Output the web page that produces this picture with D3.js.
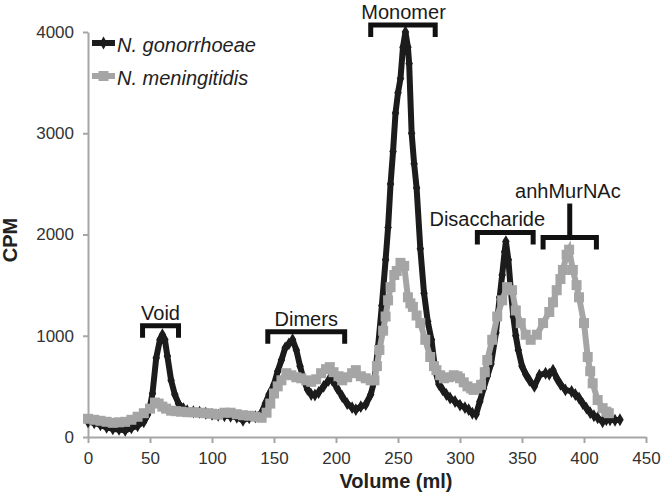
<!DOCTYPE html>
<html>
<head>
<meta charset="utf-8">
<script src="https://cdn.jsdelivr.net/npm/d3@7"></script>
<style>
  body { margin: 0; background: #fff; }
  svg { display: block; font-family: "Liberation Sans", Arial, sans-serif; }
  .axis path, .axis line { stroke: #a6a6a6; stroke-width: 2; }
  .axis text { fill: #333; font-size: 17px; }
</style>
</head>
<body>
<div id="chart"></div>
<script>
// N. gonorrhoeae
var volNg = [0,5,10,15,20,25,30,35,40,45,48,50,52,55,58,60,62,64,67,70,73,77,80,85,90,95,100,105,110,115,120,125,130,135,140,143,146,150,153,156,159,162,165,168,171,174,177,180,183,186,190,194,197,201,205,209,213,216,220,224,228,231,234,237,240,242,244,246,248,250,252,254,256,258,259,261,263,265,268,271,274,277,280,283,286,289,292,296,300,304,307,310,313,316,319,322,325,329,332,334,336,337,339,341,343,345,347,350,353,356,360,364,369,372,375,378,381,385,390,393,396,399,402,405,408,411,415,418,421,425,429];
var cpmNg = [150,140,120,95,80,75,65,90,110,150,220,300,430,780,960,1010,960,800,560,420,330,280,260,250,245,235,225,215,210,205,195,165,190,200,240,330,420,520,650,760,880,920,960,860,700,560,470,420,415,440,500,560,560,480,400,330,290,270,300,320,420,560,900,1300,1750,2070,2500,2820,3200,3400,3540,3850,4000,3850,3690,3000,2700,2460,1860,1420,1140,960,660,520,465,420,385,350,315,290,270,235,225,350,480,600,720,1030,1380,1600,1830,1930,1750,1450,1190,1000,860,700,620,560,500,610,630,620,660,580,520,465,450,420,385,330,285,240,210,190,150,170,170,165,170];

// N. meningitidis
var volNm = [0,5,10,15,20,25,30,35,40,45,50,54,57,60,63,67,71,75,80,85,90,95,100,105,110,115,120,125,130,135,140,144,147,150,153,156,160,164,168,172,176,180,184,188,192,195,198,202,205,209,213,216,220,224,228,231,233,235,238,240,242,244,247,249,252,255,258,260,262,265,268,272,276,279,281,284,287,291,295,298,300,303,306,309,311,314,317,320,322,326,330,334,338,342,345,349,353,357,362,367,372,375,378,381,383,386,388,391,394,396,400,403,405,407,411,415,418,420];
var cpmNm = [180,170,160,150,140,145,150,170,200,235,280,340,330,300,280,260,255,250,245,245,240,235,230,220,240,240,225,215,210,200,190,240,330,430,500,560,630,610,590,580,560,545,570,630,670,690,640,600,560,590,630,660,600,580,560,560,700,860,1050,1190,1350,1480,1600,1640,1720,1690,1380,1320,1285,1200,1125,960,790,700,660,610,580,590,610,600,580,540,500,480,465,480,515,640,760,960,1190,1350,1480,1450,1250,1125,1010,960,1010,1125,1235,1330,1450,1560,1650,1800,1850,1650,1500,1380,1125,790,650,530,365,285,250,235];

var seriesNames = ["N. gonorrhoeae", "N. meningitidis"];
var xTicks = [0,50,100,150,200,250,300,350,400,450];
var yTicks = [0,1000,2000,3000,4000];

// peak annotations: volume range of the bracket, CPM level of the bar
var peakLabels = ["Void", "Dimers", "Monomer", "Disaccharide", "anhMurNAc"];
var peakFrom   = [44, 145, 228, 314, 367];
var peakTo     = [73, 207, 280, 359, 410];
var peakLevel  = [1100, 1040, 4070, 2020, 1970];
var peakText   = [58.5, 176, 254.5, 322, 387];

var width = 666, height = 500;
var margin = {top: 32, right: 20, bottom: 63, left: 88};

var svg = d3.select("#chart").append("svg")
  .attr("width", width)
  .attr("height", height);

var x = d3.scaleLinear().domain([0, 450]).range([margin.left, 646]);
var y = d3.scaleLinear().domain([0, 4000]).range([437, margin.top]);

svg.append("g")
  .attr("class", "axis")
  .attr("transform", "translate(0,437)")
  .call(d3.axisBottom(x).tickValues(xTicks).tickSize(6).tickPadding(9).tickSizeOuter(0));

svg.append("g")
  .attr("class", "axis")
  .attr("transform", "translate(" + margin.left + ",0)")
  .call(d3.axisLeft(y).tickValues(yTicks).tickFormat(d3.format("d")).tickSize(5).tickPadding(9).tickSizeOuter(0));

svg.append("text")
  .attr("x", 396)
  .attr("y", 488)
  .attr("text-anchor", "middle")
  .style("font-size", "20px")
  .style("font-weight", "bold")
  .style("fill", "#222")
  .text("Volume (ml)");

svg.append("text")
  .attr("transform", "translate(17,240) rotate(-90)")
  .attr("text-anchor", "middle")
  .style("font-size", "20px")
  .style("font-weight", "bold")
  .style("fill", "#222")
  .text("CPM");

var line = d3.line()
  .x(function(d) { return x(d[0]); })
  .y(function(d) { return y(d[1]); });

var dataNg = volNg.map(function(v, i) { return [v, cpmNg[i]]; });
var dataNm = volNm.map(function(v, i) { return [v, cpmNm[i]]; });

var black = "#1c1c1c", gray = "#a5a5a5";
var diamond = d3.symbol().type(d3.symbolDiamond).size(48);

// gonorrhoeae first, meningitidis sits on top
svg.append("path")
  .datum(dataNg)
  .attr("d", line)
  .attr("fill", "none")
  .attr("stroke", black)
  .attr("stroke-width", 6)
  .attr("stroke-linejoin", "round");

svg.selectAll(".ng")
  .data(dataNg)
  .enter()
  .append("path")
  .attr("class", "ng")
  .attr("d", diamond)
  .attr("transform", function(d) { return "translate(" + x(d[0]) + "," + y(d[1]) + ")"; })
  .attr("fill", black);

svg.append("path")
  .datum(dataNm)
  .attr("d", line)
  .attr("fill", "none")
  .attr("stroke", gray)
  .attr("stroke-width", 6);

svg.selectAll(".nm")
  .data(dataNm)
  .enter()
  .append("rect")
  .attr("class", "nm")
  .attr("x", function(d) { return x(d[0]) - 5; })
  .attr("y", function(d) { return y(d[1]) - 5; })
  .attr("width", 10)
  .attr("height", 10)
  .attr("fill", gray);

// brackets
peakLabels.forEach(function(name, i) {
  var x0 = x(peakFrom[i]), x1 = x(peakTo[i]), yy = y(peakLevel[i]);
  svg.append("path")
    .attr("d", "M" + x0 + "," + (yy + 12) + "V" + yy + "H" + x1 + "V" + (yy + 12))
    .attr("fill", "none")
    .attr("stroke", "#111")
    .attr("stroke-width", 5);
  var ty = yy - 6;
  if (name == "anhMurNAc") {
    var xm = (x0 + x1) / 2;
    svg.append("line")
      .attr("x1", xm).attr("x2", xm)
      .attr("y1", yy).attr("y2", yy - 34)
      .attr("stroke", "#111")
      .attr("stroke-width", 5);
    ty = yy - 40;
  }
  svg.append("text")
    .attr("x", x(peakText[i]))
    .attr("y", ty)
    .attr("text-anchor", "middle")
    .style("font-size", "20px")
    .style("fill", "#1a1a1a")
    .text(name);
});

// legend
var legend = svg.append("g");
[black, gray].forEach(function(col, i) {
  var ly = 43 + i * 33;
  legend.append("line")
    .attr("x1", 92).attr("x2", 115)
    .attr("y1", ly).attr("y2", ly)
    .attr("stroke", col)
    .attr("stroke-width", 6);
  if (i == 0) {
    legend.append("path")
      .attr("d", diamond)
      .attr("transform", "translate(103.5," + ly + ")")
      .attr("fill", col);
  } else {
    legend.append("rect")
      .attr("x", 98.5).attr("y", ly - 5)
      .attr("width", 10).attr("height", 10)
      .attr("fill", col);
  }
  legend.append("text")
    .attr("x", 117)
    .attr("y", ly + 9)
    .style("font-size", "20px")
    .style("font-style", "italic")
    .style("fill", "#222")
    .text(seriesNames[i]);
});
</script>
</body>
</html>
